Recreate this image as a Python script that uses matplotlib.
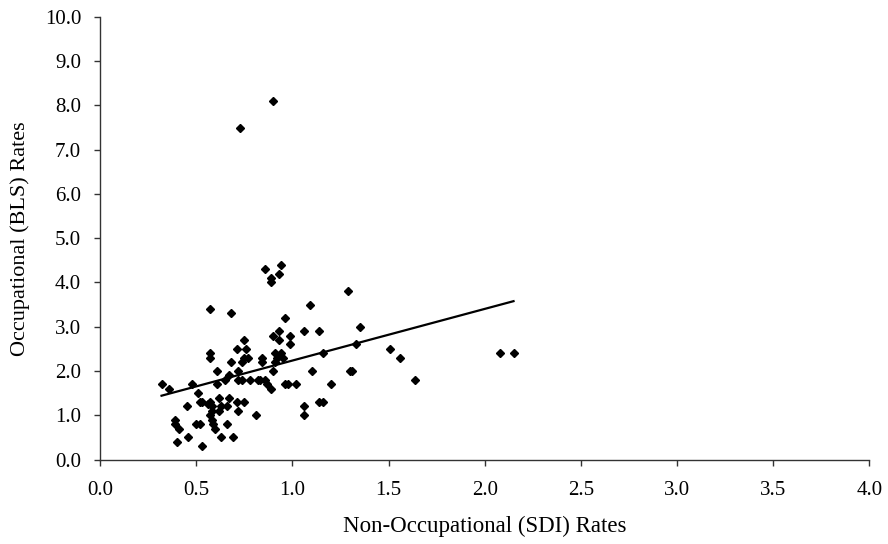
import numpy as np
import matplotlib
matplotlib.use('Agg')
import matplotlib.pyplot as plt
from matplotlib.ticker import FormatStrFormatter

# Non-occupational (SDI) rates vs occupational (BLS) rates
sdi = [0.90, 0.73,
       0.86, 0.94, 0.93, 0.89, 0.89,
       1.29,
       0.57, 0.68, 1.09, 0.96,
       1.35,
       0.93, 0.99, 0.90, 1.06, 1.14,
       0.93, 0.75, 0.99, 1.33,
       0.71, 0.76, 1.51,
       0.57, 0.91, 0.94, 1.16, 2.08, 2.15,
       0.57, 0.75, 0.77, 0.84, 0.92, 0.95, 1.56,
       0.68, 0.74, 0.84, 0.91,
       0.61, 0.72, 0.90, 1.10, 1.30, 1.31,
       0.67, 0.65,
       0.72, 0.74, 0.78, 0.82, 0.83, 0.86, 1.64,
       0.32, 0.48, 0.61, 0.87, 0.96, 0.98, 1.02, 1.20,
       0.36, 0.89,
       0.51,
       0.62, 0.67,
       0.52, 0.53, 0.57, 0.71, 0.75, 1.14, 1.16,
       0.45, 0.58, 0.63, 0.66, 1.06, 0.56,
       0.58, 0.62, 0.72,
       0.57, 0.81, 1.06,
       0.39, 0.58,
       0.39, 0.50, 0.52, 0.59, 0.66,
       0.41, 0.60,
       0.46, 0.63, 0.69,
       0.40,
       0.53]
bls = [8.1, 7.5,
       4.3, 4.4, 4.2, 4.1, 4.0,
       3.8,
       3.4, 3.3, 3.5, 3.2,
       3.0,
       2.9, 2.8, 2.8, 2.9, 2.9,
       2.7, 2.7, 2.6, 2.6,
       2.5, 2.5, 2.5,
       2.4, 2.4, 2.4, 2.4, 2.4, 2.4,
       2.3, 2.3, 2.3, 2.3, 2.3, 2.3, 2.3,
       2.2, 2.2, 2.2, 2.2,
       2.0, 2.0, 2.0, 2.0, 2.0, 2.0,
       1.9, 1.8,
       1.8, 1.8, 1.8, 1.8, 1.8, 1.8, 1.8,
       1.7, 1.7, 1.7, 1.7, 1.7, 1.7, 1.7, 1.7,
       1.6, 1.6,
       1.5,
       1.4, 1.4,
       1.3, 1.3, 1.3, 1.3, 1.3, 1.3, 1.3,
       1.2, 1.2, 1.2, 1.2, 1.2, 1.25,
       1.1, 1.1, 1.1,
       1.0, 1.0, 1.0,
       0.9, 0.9,
       0.8, 0.8, 0.8, 0.8, 0.8,
       0.7, 0.7,
       0.5, 0.5, 0.5,
       0.4,
       0.3]

x = np.array(sdi)
y = np.array(bls)

plt.rcParams['font.family'] = 'Liberation Serif'

fig = plt.figure(figsize=(8.88, 5.44), dpi=100)
ax = fig.add_axes([0.1126, 0.1553, 0.8664, 0.8135])

ax.plot(x, y, 'D', color='black', markersize=4.5, linestyle='none')

# linear trendline over the data range
k, b = np.polyfit(x, y, 1)
xt = np.array([x.min(), x.max()])
ax.plot(xt, k * xt + b, color='black', linewidth=1.6)

ax.set_xlim(0, 4)
ax.set_ylim(0, 10)
ax.set_xticks(np.arange(0, 4.01, 0.5))
ax.set_yticks(np.arange(0, 10.01, 1.0))
ax.xaxis.set_major_formatter(FormatStrFormatter('%.1f'))
ax.yaxis.set_major_formatter(FormatStrFormatter('%.1f'))
ax.spines['top'].set_visible(False)
ax.spines['right'].set_visible(False)
for s in ('left', 'bottom'):
    ax.spines[s].set_color('#333333')
    ax.spines[s].set_linewidth(1.0)
ax.tick_params(direction='out', length=4.5, width=1.0, color='#333333', labelsize=15)
ax.tick_params(axis='x', pad=11)
ax.tick_params(axis='y', pad=9)

ax.set_xlabel('Non-Occupational (SDI) Rates', fontsize=16.5, labelpad=11)
ax.set_ylabel('Occupational (BLS) Rates', fontsize=16, labelpad=11)

fig.savefig('out.png', dpi=100)
